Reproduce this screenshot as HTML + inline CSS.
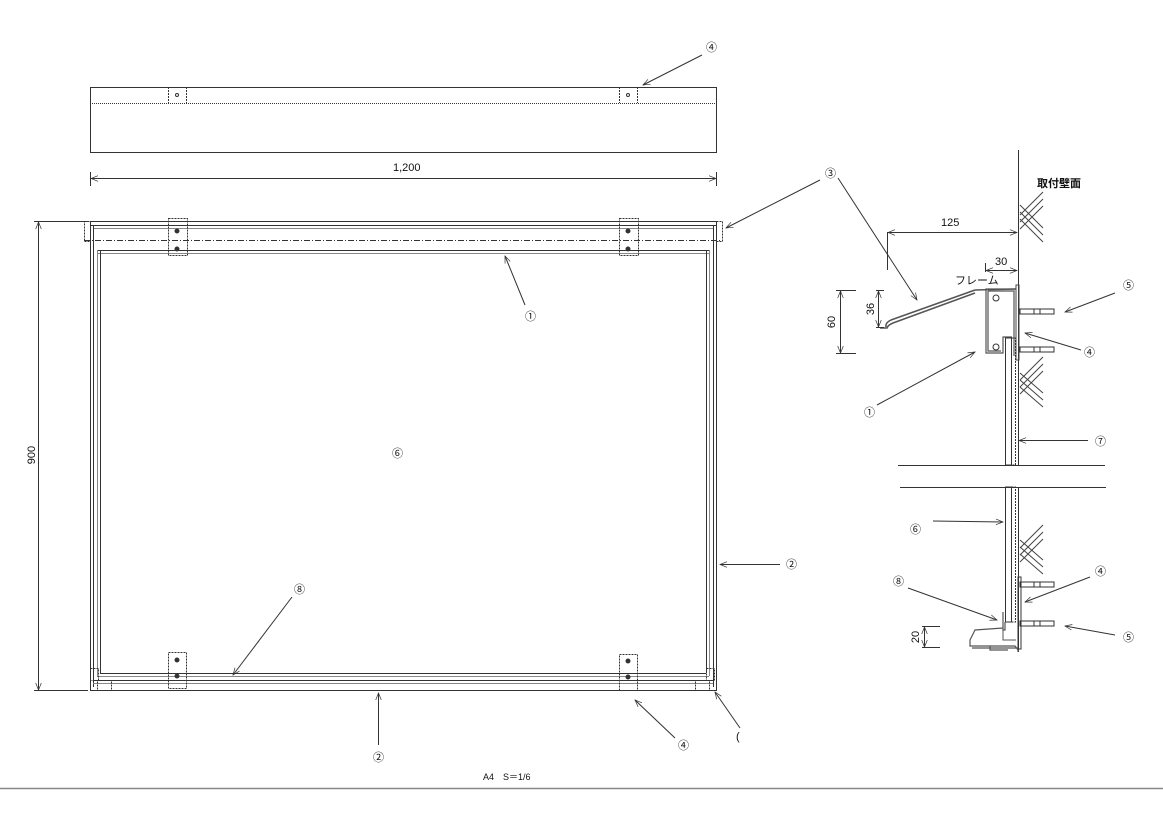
<!DOCTYPE html>
<html><head><meta charset="utf-8"><style>
html,body{margin:0;padding:0;background:#fff;width:1163px;height:817px;overflow:hidden}
svg{display:block}
text{font-family:"Liberation Sans","Noto Sans CJK JP",sans-serif;fill:#111}
</style></head><body>
<svg width="1163" height="817" viewBox="0 0 1163 817" xmlns="http://www.w3.org/2000/svg">
<defs>
<marker id="a" viewBox="0 0 10 10" refX="10" refY="5" markerWidth="9" markerHeight="7" orient="auto-start-reverse" markerUnits="userSpaceOnUse"><path d="M0,1 L10,5 L0,9" fill="none" stroke="#333" stroke-width="1"/></marker>
</defs>
<g stroke="#333" stroke-width="1" fill="none">
<rect x="90.5" y="87.5" width="626" height="65"/>
<line x1="90" y1="103.5" x2="716" y2="103.5" stroke-dasharray="1,1"/>
<line x1="168.5" y1="87" x2="168.5" y2="103" stroke-dasharray="2,1"/>
<line x1="186.5" y1="87" x2="186.5" y2="103" stroke-dasharray="2,1"/>
<line x1="619.5" y1="87" x2="619.5" y2="103" stroke-dasharray="2,1"/>
<line x1="637.5" y1="87" x2="637.5" y2="103" stroke-dasharray="2,1"/>
<circle cx="177" cy="95" r="1.5"/><circle cx="628" cy="95" r="1.5"/>
<line x1="90.5" y1="172" x2="90.5" y2="186"/><line x1="716.5" y1="172" x2="716.5" y2="186"/>
<line x1="91" y1="178.5" x2="716" y2="178.5" marker-start="url(#a)" marker-end="url(#a)"/>
<rect x="90.5" y="221.5" width="626" height="469"/>
<rect x="84.5" y="221.5" width="6" height="20" stroke-dasharray="2,1"/>
<rect x="716.5" y="221.5" width="6" height="20" stroke-dasharray="2,1"/>
<line x1="90" y1="225.5" x2="716" y2="225.5"/><line x1="93" y1="228.5" x2="713" y2="228.5" stroke="#888"/>
<line x1="84" y1="240.5" x2="722" y2="240.5" stroke-dasharray="6,2,1,2"/>
<line x1="97" y1="250.5" x2="709" y2="250.5"/><line x1="97" y1="253.5" x2="709" y2="253.5" stroke="#888"/>
<line x1="93.5" y1="225" x2="93.5" y2="687"/><line x1="97.5" y1="250" x2="97.5" y2="676" stroke="#888"/><line x1="100.5" y1="250" x2="100.5" y2="673"/>
<line x1="713.5" y1="225" x2="713.5" y2="687"/><line x1="709.5" y1="250" x2="709.5" y2="676" stroke="#888"/><line x1="706.5" y1="250" x2="706.5" y2="673"/>
<line x1="100" y1="673.5" x2="706" y2="673.5"/><line x1="97" y1="676.5" x2="709" y2="676.5" stroke="#888"/>
<line x1="93" y1="680.5" x2="713" y2="680.5"/><line x1="93" y1="683.5" x2="713" y2="683.5" stroke="#888"/>
<rect x="97.5" y="680.5" width="14" height="10" stroke-dasharray="2,1"/>
<rect x="695.5" y="680.5" width="14" height="10" stroke-dasharray="2,1"/>
<rect x="90.5" y="668.5" width="8" height="12" stroke-dasharray="2,1"/>
<rect x="706.5" y="668.5" width="8" height="12" stroke-dasharray="2,1"/>
<rect x="168.5" y="218.5" width="19" height="37" stroke-dasharray="2,1"/>
<rect x="619.5" y="218.5" width="19" height="37" stroke-dasharray="2,1"/>
<rect x="168.5" y="652.5" width="18" height="36" stroke-dasharray="2,1"/>
<rect x="619.5" y="654.5" width="18" height="36" stroke-dasharray="2,1"/>
<g fill="#333"><circle cx="177" cy="231" r="2"/><circle cx="177" cy="249" r="2"/><circle cx="628" cy="231" r="2"/><circle cx="628" cy="249" r="2"/>
<circle cx="177" cy="660" r="2"/><circle cx="177" cy="676" r="2"/><circle cx="628" cy="661" r="2"/><circle cx="628" cy="677" r="2"/></g>
<line x1="34" y1="221.5" x2="88" y2="221.5"/><line x1="34" y1="690.5" x2="88" y2="690.5"/>
<line x1="38.5" y1="222" x2="38.5" y2="690" marker-start="url(#a)" marker-end="url(#a)"/>
<line x1="702" y1="55" x2="643" y2="85" marker-end="url(#a)"/>
<line x1="820" y1="180" x2="726" y2="228" marker-end="url(#a)"/>
<line x1="525" y1="305" x2="505" y2="256" marker-end="url(#a)"/>
<line x1="780" y1="564.5" x2="720" y2="564.5" marker-end="url(#a)"/>
<line x1="378.5" y1="745" x2="378.5" y2="693" marker-end="url(#a)"/>
<line x1="292" y1="597" x2="233" y2="675" marker-end="url(#a)"/>
<line x1="675" y1="738" x2="635" y2="700" marker-end="url(#a)"/>
<line x1="740" y1="728" x2="715" y2="692" marker-end="url(#a)"/>
<line x1="1018.5" y1="150" x2="1018.5" y2="465"/>
<line x1="1018.5" y1="487" x2="1018.5" y2="652"/>
<line x1="898" y1="465.5" x2="1105" y2="465.5"/><line x1="900" y1="487.5" x2="1106" y2="487.5"/>
<g stroke="#444">
<path d="M1020,215 L1043,192 M1020,222 L1043,199 M1020,229 L1043,206 M1020,205 L1043,228 M1020,212 L1043,235 M1020,219 L1043,242"/>
<path d="M1020,380 L1043,357 M1020,387 L1043,364 M1020,394 L1043,371 M1020,380 L1043,400 M1020,387 L1043,407 M1020,373 L1043,393"/>
<path d="M1020,548 L1043,525 M1020,555 L1043,532 M1020,562 L1043,539 M1020,547 L1043,567 M1020,554 L1043,574 M1020,540 L1043,560"/>
</g>
<line x1="887.5" y1="232" x2="887.5" y2="270"/>
<line x1="888" y1="232.5" x2="1017" y2="232.5" marker-start="url(#a)" marker-end="url(#a)"/>
<line x1="985.5" y1="263" x2="985.5" y2="272"/>
<line x1="986" y1="270.5" x2="1017" y2="270.5" marker-start="url(#a)" marker-end="url(#a)"/>
<path d="M975,290 L1016,289 M975,293 L893,323 Q888,325 887,328 L880,328 M975,290 L891,320 Q885,323 886,327" stroke="#555" stroke-width="1.5"/>
<path d="M1016,289 L986,289 L986,353 L1003,353 L1003,337 L1012,337 M988,291 L1014,291 L1014,356 M988,291 L988,351 L1001,351" stroke="#555" stroke-width="1.2"/>
<rect x="1016" y="285" width="3" height="75" stroke="#444"/>
<circle cx="996" cy="298" r="3"/><circle cx="996" cy="347" r="3"/>
<rect x="1005.5" y="338" width="6" height="127"/><rect x="1011.5" y="338" width="4" height="127" stroke-dasharray="2,1"/>
<rect x="1005.5" y="487" width="6" height="135"/><rect x="1011.5" y="487" width="4" height="135" stroke-dasharray="2,1"/>
<g stroke="#333"><rect x="1020" y="309" width="34" height="5"/><rect x="1020" y="347" width="34" height="5"/><rect x="1020" y="582" width="34" height="5"/><rect x="1020" y="621" width="34" height="5"/></g>
<path d="M1034,309 L1034,314 M1040,309 L1040,314 M1034,347 L1034,352 M1040,347 L1040,352 M1034,582 L1034,587 M1040,582 L1040,587 M1034,621 L1034,626 M1040,621 L1040,626"/>
<rect x="1018" y="577" width="3" height="72"/>
<path d="M1003,612 L1003,630 L1005,630 L1005,622 M1003,628 L975,630 L970,640 L970,646 L1015,646 L1018,650 L1018,652 M972,648 L1018,648 M990,646 L990,650 L1008,650" stroke="#555" stroke-width="1.2"/>
<path d="M1003,622 L1003,640 L1016,640" stroke="#555"/>
<line x1="836" y1="290.5" x2="856" y2="290.5"/><line x1="836" y1="353.5" x2="856" y2="353.5"/>
<line x1="840.5" y1="291" x2="840.5" y2="353" marker-start="url(#a)" marker-end="url(#a)"/>
<line x1="876" y1="290.5" x2="884" y2="290.5"/><line x1="876" y1="327.5" x2="884" y2="327.5"/>
<line x1="878.5" y1="291" x2="878.5" y2="327" marker-start="url(#a)" marker-end="url(#a)"/>
<line x1="922" y1="626.5" x2="940" y2="626.5"/><line x1="922" y1="647.5" x2="940" y2="647.5"/>
<line x1="924.5" y1="627" x2="924.5" y2="647" marker-start="url(#a)" marker-end="url(#a)"/>
<line x1="838" y1="178" x2="917" y2="300" marker-end="url(#a)"/>
<line x1="1115" y1="293" x2="1065" y2="312" marker-end="url(#a)"/>
<line x1="1081" y1="350" x2="1025" y2="333" marker-end="url(#a)"/>
<line x1="877" y1="405" x2="975" y2="352" marker-end="url(#a)"/>
<line x1="1088" y1="440.5" x2="1019" y2="440.5" marker-end="url(#a)"/>
<line x1="933" y1="521" x2="1003" y2="522" marker-end="url(#a)"/>
<line x1="1090" y1="577" x2="1025" y2="602" marker-end="url(#a)"/>
<line x1="908" y1="588" x2="997" y2="620" marker-end="url(#a)"/>
<line x1="1115" y1="635" x2="1065" y2="626" marker-end="url(#a)"/>
<line x1="0" y1="788.5" x2="1163" y2="788.5" stroke="#888" stroke-width="1.5"/>
</g>
<g font-size="11">
<text x="393" y="171">1,200</text>
<text x="35" y="455" text-anchor="middle" transform="rotate(-90 35 455)">900</text>
<text x="706" y="51">④</text>
<text x="825" y="177">③</text>
<text x="525" y="320">①</text>
<text x="392" y="457">⑥</text>
<text x="786" y="568">②</text>
<text x="373" y="761">②</text>
<text x="294" y="593">⑧</text>
<text x="678" y="749">④</text>
<text x="736" y="740">(</text>
<text x="1037" y="187" font-weight="bold">取付壁面</text>
<text x="941" y="226">125</text>
<text x="995" y="265">30</text>
<text x="955" y="284" fill="#555">フレーム</text>
<text x="1123" y="289">⑤</text>
<text x="1084" y="356">④</text>
<text x="864" y="416">①</text>
<text x="1095" y="445">⑦</text>
<text x="910" y="533">⑥</text>
<text x="1095" y="575">④</text>
<text x="893" y="585">⑧</text>
<text x="1123" y="641">⑤</text>
<text x="835" y="322" text-anchor="middle" transform="rotate(-90 835 322)">60</text>
<text x="874" y="309" text-anchor="middle" transform="rotate(-90 874 309)">36</text>
<text x="919" y="637" text-anchor="middle" transform="rotate(-90 919 637)">20</text>
<text x="483" y="780" font-size="9">A4　S＝1/6</text>
</g>
</svg>
</body></html>
